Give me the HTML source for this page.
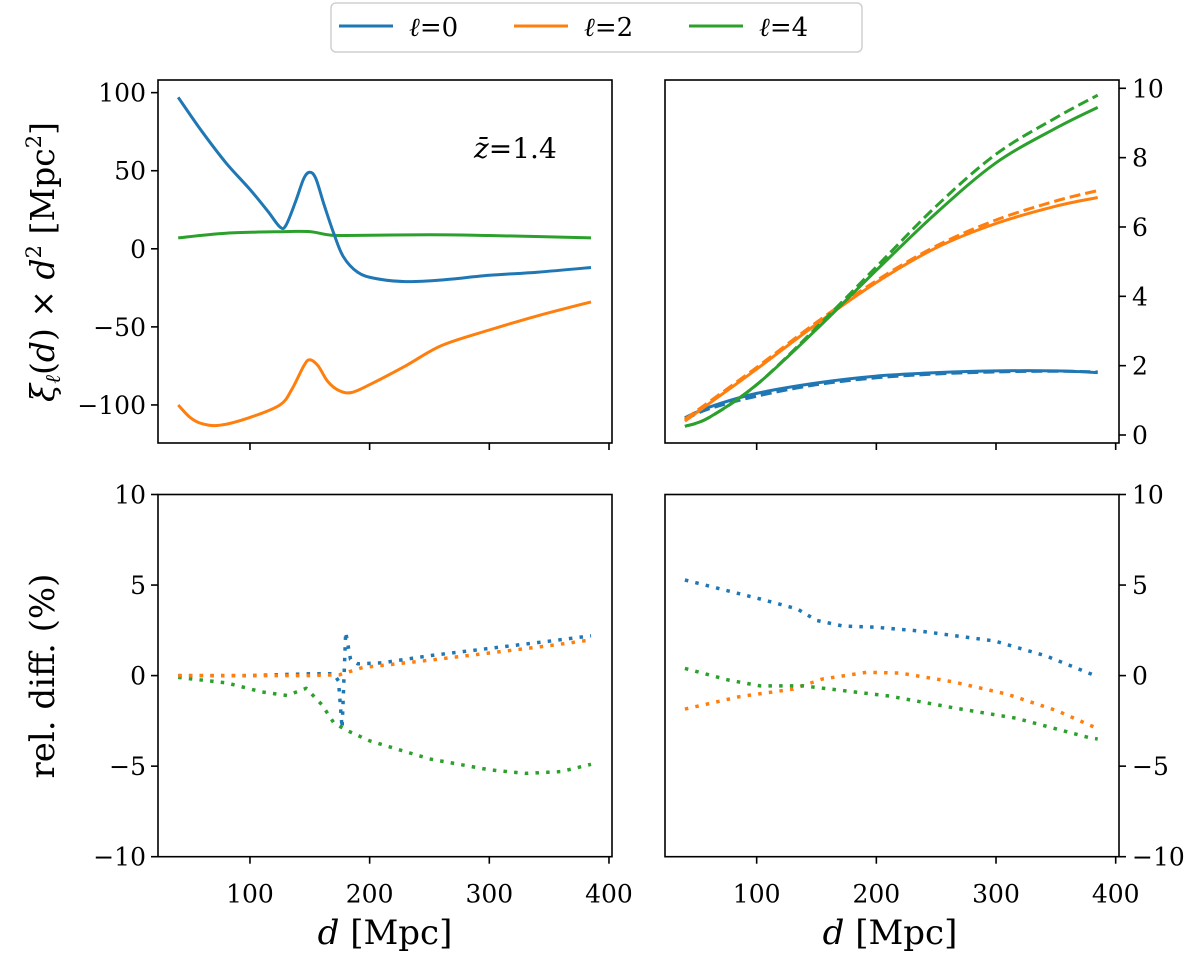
<!DOCTYPE html>
<html><head><meta charset="utf-8">
<style>
html,body{margin:0;padding:0;background:#fff;}
svg{display:block;}
text{font-family:"DejaVu Serif","Liberation Serif",serif;fill:#000;}
</style></head>
<body>
<svg id="fig" width="1200" height="957" viewBox="0 0 1200 957" xmlns="http://www.w3.org/2000/svg">
<g id="legend">
  <rect x="331" y="3" width="531" height="49" rx="5" fill="#fff" stroke="#d0d0d0" stroke-width="1.5"/>
  <line x1="339" y1="26" x2="393" y2="26" stroke="#1f77b4" stroke-width="3"/>
  <text x="409" y="36" font-size="26"><tspan font-style="italic">ℓ</tspan>=0</text>
  <line x1="514" y1="26" x2="568" y2="26" stroke="#ff7f0e" stroke-width="3"/>
  <text x="584" y="36" font-size="26"><tspan font-style="italic">ℓ</tspan>=2</text>
  <line x1="689" y1="26" x2="743" y2="26" stroke="#2ca02c" stroke-width="3"/>
  <text x="759" y="36" font-size="26"><tspan font-style="italic">ℓ</tspan>=4</text>
</g>
<text x="474" y="158" font-size="28"><tspan font-style="italic">z̄</tspan>=1.4</text>
<text transform="translate(54,262) rotate(-90)" text-anchor="middle" font-size="33"><tspan font-style="italic">ξ</tspan><tspan font-style="italic" font-size="21" dy="6">ℓ</tspan><tspan dy="-6">(</tspan><tspan font-style="italic">d</tspan>) × <tspan font-style="italic">d</tspan><tspan font-size="21" dy="-13">2</tspan><tspan dy="13"> [Mpc</tspan><tspan font-size="21" dy="-13">2</tspan><tspan dy="13">]</tspan></text>
<text transform="translate(54,676) rotate(-90)" text-anchor="middle" font-size="34">rel. diff. (%)</text>
<text x="385" y="944" text-anchor="middle" font-size="34"><tspan font-style="italic">d</tspan> [Mpc]</text>
<text x="890" y="944" text-anchor="middle" font-size="34"><tspan font-style="italic">d</tspan> [Mpc]</text>
</svg>
<script>
// ---- data ----
const xTicks = [100, 200, 300, 400];
const yTicksTL = [100, 50, 0, -50, -100];
const yTicksTR = [0, 2, 4, 6, 8, 10];
const yTicksB = [10, 5, 0, -5, -10];

const tlD0 = [40,60,80,100,115,125,130,138,145,150,155,162,170,178,190,205,230,260,300,340,385];
const tlL0 = [97,75,55,38,24,14,15,30,45,49,45,28,10,-5,-15,-19,-21,-20,-17,-15,-12];
const tlD2 = [40,50,60,75,100,125,135,145,150,157,165,175,185,200,230,260,300,340,385];
const tlL2 = [-100,-108,-112,-113,-108,-100,-90,-75,-71,-75,-85,-91,-92,-87,-75,-62,-52,-43,-34];
const tlD4 = [40,80,130,150,165,180,250,300,385];
const tlL4 = [7,10,11,11,9,8.5,9,8.5,7];

const trD = [40,60,100,150,200,250,300,350,385];
const trL0 = [0.5,0.8,1.2,1.5,1.7,1.8,1.85,1.85,1.8];
const trL0dash = [0.45,0.75,1.12,1.45,1.65,1.76,1.82,1.84,1.82];
const trL2 = [0.4,0.9,1.9,3.2,4.4,5.4,6.1,6.6,6.85];
const trL2dash = [0.45,0.95,1.95,3.25,4.45,5.45,6.2,6.75,7.05];
const trL4 = [0.25,0.5,1.45,3.05,4.75,6.4,7.85,8.85,9.45];
const trL4dash = [0.25,0.5,1.45,3.1,4.85,6.6,8.1,9.15,9.8];

const blD0 = [40,100,125,150,170,174,177,180,184,190,210,250,300,350,385];
const blL0 = [0,0,0.05,0.1,0.1,-0.3,-2.9,2.4,0.9,0.65,0.7,1.1,1.5,1.9,2.2];
const blD2 = [40,100,150,175,194,250,300,350,385];
const blL2 = [0,0,0,0.05,0.44,0.85,1.25,1.65,1.97];
const blD4 = [40,80,110,131,147,160,170,180,200,250,300,330,360,385];
const blL4 = [-0.1,-0.4,-0.9,-1.1,-0.7,-1.6,-2.6,-3.0,-3.6,-4.6,-5.2,-5.4,-5.3,-4.9];

const brD0 = [40,103,134,150,172,199,236,299,342,385];
const brL0 = [5.28,4.23,3.68,3.05,2.74,2.67,2.46,1.91,1.08,-0.06];
const brD2 = [40,86,130,155,192,220,264,309,351,384];
const brL2 = [-1.85,-1.16,-0.75,-0.19,0.18,0.14,-0.34,-1.02,-1.94,-2.9];
const brD4 = [40,76,103,139,164,211,264,317,378,385];
const brL4 = [0.4,-0.24,-0.57,-0.57,-0.76,-1.13,-1.77,-2.36,-3.43,-3.5];

// ---- layout ----
const NS = "http://www.w3.org/2000/svg";
const svg = document.getElementById('fig');
const C = {blue:'#1f77b4', orange:'#ff7f0e', green:'#2ca02c'};
const panels = {
  tl:{x0:158,x1:612,y0:80,y1:443,xo:130.3,ymap:v=>248.8-v*1.5615,side:'left',ticks:yTicksTL,xl:false},
  tr:{x0:665,x1:1119,y0:80,y1:443,xo:637,ymap:v=>435-v*34.67,side:'right',ticks:yTicksTR,xl:false},
  bl:{x0:158,x1:612,y0:494.5,y1:856.7,xo:130.3,ymap:v=>675.6-v*18.11,side:'left',ticks:yTicksB,xl:true},
  br:{x0:665,x1:1119,y0:494.5,y1:856.7,xo:637,ymap:v=>675.6-v*18.11,side:'right',ticks:yTicksB,xl:true}
};
const KX = 1.1967;
function fmt(v){return v<0?'\u2212'+(-v):String(v);}
function mk(tag, attrs){const e=document.createElementNS(NS,tag);for(const k in attrs)e.setAttribute(k,attrs[k]);return e;}

function smoothPath(pts){
  let d='M'+pts[0][0].toFixed(1)+','+pts[0][1].toFixed(1);
  for(let i=0;i<pts.length-1;i++){
    const p0=pts[Math.max(0,i-1)],p1=pts[i],p2=pts[i+1],p3=pts[Math.min(pts.length-1,i+2)];
    const c1=[p1[0]+(p2[0]-p0[0])/6,p1[1]+(p2[1]-p0[1])/6];
    const c2=[p2[0]-(p3[0]-p1[0])/6,p2[1]-(p3[1]-p1[1])/6];
    d+=' C'+c1[0].toFixed(1)+','+c1[1].toFixed(1)+' '+c2[0].toFixed(1)+','+c2[1].toFixed(1)+' '+p2[0].toFixed(1)+','+p2[1].toFixed(1);
  }
  return d;
}

for(const key in panels){
  const p=panels[key];
  const g=mk('g',{});
  
  
  svg.appendChild(g);
  xTicks.forEach(t=>{
    const x=p.xo+t*KX;
    const tk=mk('line',{x1:x,y1:p.y1,x2:x,y2:p.y1+7,stroke:'#000','stroke-width':1.6});
    
    
    g.appendChild(tk);
    if(p.xl){
      const tx=mk('text',{x:x,y:p.y1+46,'text-anchor':'middle','font-size':25});
      
      
      tx.textContent=t; g.appendChild(tx);
    }
  });
  p.ticks.forEach(t=>{
    const y=p.ymap(t);
    const xa=p.side==='left'?p.x0:p.x1;
    const dx=p.side==='left'?-7:7;
    const tk=mk('line',{x1:xa,y1:y,x2:xa+dx,y2:y,stroke:'#000','stroke-width':1.6});
    
    
    g.appendChild(tk);
    const tx=mk('text',{x:p.side==='left'?xa-12:xa+13,y:y+9,'text-anchor':p.side==='left'?'end':'start','font-size':25});
    
    
    tx.textContent=fmt(t); g.appendChild(tx);
  });
  p.g=g;
}

function series(pk, xs, ys, color, style, name){
  const p=panels[pk];
  const pts=xs.map((d,i)=>[p.xo+d*KX, p.ymap(ys[i])]);
  const attrs={fill:'none',stroke:color,'stroke-width':3,'stroke-linejoin':'round'};
  let d;
  if(style==='dot'){
    attrs['stroke-width']=3.5; attrs['stroke-dasharray']='3.5 7.2';
    d='M'+pts.map(q=>q[0].toFixed(1)+','+q[1].toFixed(1)).join(' L');
  } else {
    d=smoothPath(pts);
    if(style==='dash'){attrs['stroke-dasharray']='11 5';}
  }
  attrs.d=d;
  const el=mk('path',attrs);
  
  
  p.g.appendChild(el);
}

series('tl',tlD4,tlL4,C.green,'solid','line-l4-tl');
series('tl',tlD0,tlL0,C.blue,'solid','line-l0-tl');
series('tl',tlD2,tlL2,C.orange,'solid','line-l2-tl');

series('tr',trD,trL0dash,C.blue,'dash','dashed-l0-tr');
series('tr',trD,trL0,C.blue,'solid','line-l0-tr');
series('tr',trD,trL2dash,C.orange,'dash','dashed-l2-tr');
series('tr',trD,trL2,C.orange,'solid','line-l2-tr');
series('tr',trD,trL4dash,C.green,'dash','dashed-l4-tr');
series('tr',trD,trL4,C.green,'solid','line-l4-tr');

series('bl',blD4,blL4,C.green,'dot','reldiff-l4-bl');
series('bl',blD0,blL0,C.blue,'dot','reldiff-l0-bl');
series('bl',blD2,blL2,C.orange,'dot','reldiff-l2-bl');

series('br',brD0,brL0,C.blue,'dot','reldiff-l0-br');
series('br',brD2,brL2,C.orange,'dot','reldiff-l2-br');
series('br',brD4,brL4,C.green,'dot','reldiff-l4-br');

for(const key in panels){
  const p=panels[key];
  const fr=mk('rect',{x:p.x0,y:p.y0,width:p.x1-p.x0,height:p.y1-p.y0,fill:'none',stroke:'#000','stroke-width':1.6});
  
  
  p.g.appendChild(fr);
}
</script>
</body></html>
